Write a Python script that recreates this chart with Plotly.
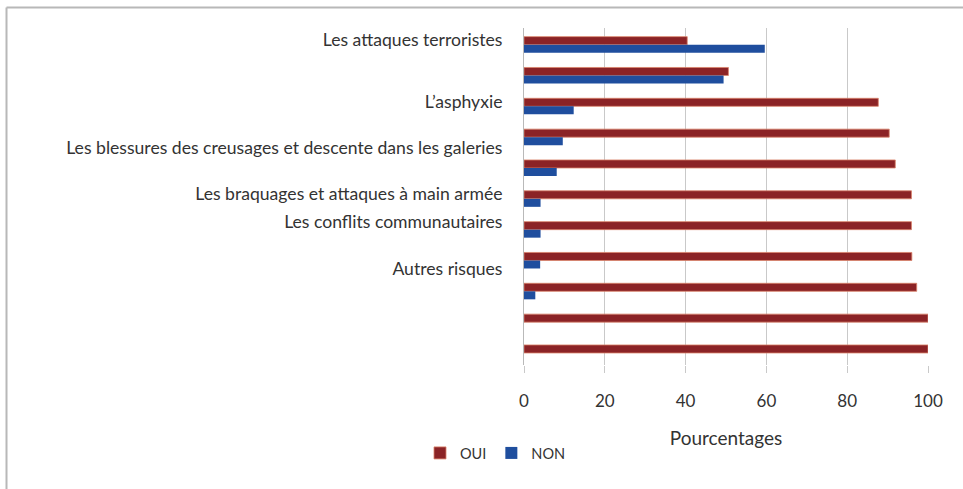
import plotly.graph_objects as go

# Data (top row first)
rows = list(range(11))
oui = [40.4, 50.6, 87.7, 90.4, 91.9, 95.9, 95.9, 96.0, 97.2, 100, 100]
non = [59.6, 49.4, 12.3, 9.6, 8.1, 4.1, 4.1, 4.0, 2.8, 0, 0]
label_pos = [-0.15, 1.86, 3.35, 4.84, 5.75, 7.28]
label_text = [
    "Les attaques terroristes",
    "L\u2019asphyxie",
    "Les blessures des creusages et descente dans les galeries",
    "Les braquages et attaques à main armée",
    "Les conflits communautaires",
    "Autres risques",
]
x_ticks = [0, 20, 40, 60, 80, 100]

W, H = 963, 489
L, R, T, B = 524, 35, 28, 124
pw, ph = W - L - R, H - T - B

def px2x(px):
    return (px - L) / pw

def py2y(py):
    return (H - B - py) / ph

FONT = "Lato, 'Open Sans', sans-serif"

fig = go.Figure()
fig.add_trace(go.Bar(
    y=rows, x=oui, orientation="h", name="OUI",
    marker=dict(color="#8B2326", line=dict(color="#d9826a", width=0.8)),
))
fig.add_trace(go.Bar(
    y=rows, x=non, orientation="h", name="NON",
    marker=dict(color="#1F4E9E", line=dict(width=0)),
))

fig.update_layout(
    width=W, height=H,
    margin=dict(l=L, r=R, t=T, b=B, autoexpand=False),
    paper_bgcolor="white", plot_bgcolor="white",
    barmode="group", bargap=0.48, bargroupgap=0,
    font=dict(family=FONT, size=17.6, color="#333333"),
    showlegend=True,
    legend=dict(
        orientation="h", x=px2x(420), y=py2y(453), xanchor="left", yanchor="middle",
        font=dict(family=FONT, size=14.5, color="#333333"),
        itemwidth=30, traceorder="normal", bgcolor="rgba(0,0,0,0)",
    ),
    xaxis=dict(
        range=[0, 100], tickvals=x_ticks, ticktext=[str(v) for v in x_ticks],
        showgrid=True, gridcolor="#c9c9c9", gridwidth=1,
        ticks="outside", ticklen=7, tickcolor="#c9c9c9",
        ticklabelstandoff=14,
        showline=False, zeroline=False,
        tickfont=dict(size=17, color="#333333"),
        title=dict(text="Pourcentages", standoff=21, font=dict(size=19, color="#333333")),
    ),
    yaxis=dict(
        range=[10.39, -0.54], tickvals=label_pos, ticktext=label_text,
        showgrid=False, zeroline=False,
        showline=True, linecolor="#b9b9b9", linewidth=1,
        ticks="", ticklabelstandoff=17,
        tickfont=dict(size=17.6, color="#333333"),
    ),
    shapes=[
        dict(type="line", xref="paper", yref="paper",
             x0=px2x(6.5), x1=px2x(6.5), y0=py2y(7.5), y1=py2y(489),
             line=dict(color="#b8b8b8", width=2)),
        dict(type="line", xref="paper", yref="paper",
             x0=px2x(6.5), x1=px2x(963), y0=py2y(7.5), y1=py2y(7.5),
             line=dict(color="#b8b8b8", width=2)),
    ],
)

fig.write_html(
    "out.html",
    config={"displayModeBar": False},
    post_script="document.body.style.margin='0px';document.body.style.overflow='hidden';",
)
